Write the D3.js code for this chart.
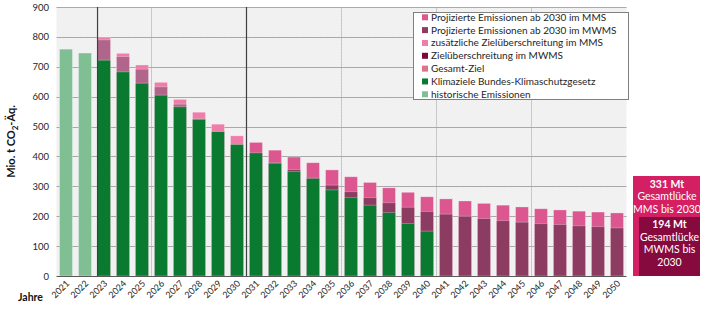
<!DOCTYPE html>
<html><head><meta charset="utf-8">
<script src="https://cdn.jsdelivr.net/npm/d3@7"></script>
<style>
html,body{margin:0;padding:0;background:#fff;}
svg{display:block;font-family:Lato,"Open Sans",sans-serif;}
</style></head>
<body><svg id="c" width="708" height="323"></svg>
<script>
const years = ["2021","2022","2023","2024","2025","2026","2027","2028","2029","2030",
"2031","2032","2033","2034","2035","2036","2037","2038","2039","2040",
"2041","2042","2043","2044","2045","2046","2047","2048","2049","2050"];
const historic = [759,746,null,null,null,null,null,null,null,null,null,null,null,null,null,null,null,null,null,null,null,null,null,null,null,null,null,null,null,null];
const target = [null,null,722,683,645,605,566,524,483,440,412,377,350,326,288,263,237,212,176,150,null,null,null,null,null,null,null,null,null,null];
const mms = [null,null,799,745,706,648,591,548,508,469,447,421,398,379,355,332,313,295,280,265,258,251,243,237,231,225,221,217,214,211];
const mwms = [null,null,790,734,692,633,575,527,484,430,405,380,356,330,304,282,262,245,230,216,207,200,192,185,180,175,172,168,165,161];
const yTicks = [0,100,200,300,400,500,600,700,800,900];
const legendItems = [
 ["Projizierte Emissionen ab 2030 im MMS","#dc5690"],
 ["Projizierte Emissionen ab 2030 im MWMS","#8c3b61"],
 ["zusätzliche Zielüberschreitung im MMS","#f07ca9"],
 ["Zielüberschreitung im MWMS","#7a0a3a"],
 ["Gesamt-Ziel","#e0708e"],
 ["Klimaziele Bundes-Klimaschutzgesetz","#0a7a30"],
 ["historische Emissionen","#80bf94"]
];
const gapMMS = ["331 Mt","Gesamtlücke","MMS bis 2030"];
const gapMWMS = ["194 Mt","Gesamtlücke","MWMS bis","2030"];

const svg = d3.select("#c");
const L=56.5, R=626.5, T=7, B=276;
const x = d3.scaleBand().domain(years).range([L,R]).paddingInner(0.32).paddingOuter(0.16);
const y = d3.scaleLinear().domain([0,900]).range([B,T]);

// plot background
const defs = svg.append("defs");
const pat = defs.append("pattern").attr("id","hatch").attr("width",3).attr("height",3)
  .attr("patternUnits","userSpaceOnUse");
pat.append("rect").attr("width",3).attr("height",3).attr("fill","#f3f3f3");
pat.append("path").attr("d","M0,3L3,0").attr("stroke","#e9e9e9").attr("stroke-width",0.6);
svg.append("rect").attr("x",L).attr("y",T).attr("width",R-L).attr("height",B-T).attr("fill","url(#hatch)");

// vertical light gridlines every 5 years
const step = x.step();
[5,10,15,20,25].forEach(i=>{
  const xx = x(years[i]) - (step - x.bandwidth())/2;
  svg.append("line").attr("x1",xx).attr("x2",xx).attr("y1",T).attr("y2",B)
    .attr("stroke","#c8c8c8").attr("stroke-width",1);
});
// horizontal gridlines
svg.append("g").selectAll("line").data(yTicks.filter(d=>d>0)).join("line")
  .attr("x1",L).attr("x2",R).attr("y1",d=>Math.round(y(d))+0.5).attr("y2",d=>Math.round(y(d))+0.5)
  .attr("stroke","#a9a9a9").attr("stroke-width",1);

// bars
const idx = d3.range(years.length);
const bw = x.bandwidth();
function bars(vals, colorFn){
  svg.append("g").selectAll("rect").data(idx.filter(i=>vals[i]!=null)).join("rect")
    .attr("x",i=>x(years[i])).attr("width",bw)
    .attr("y",i=>y(vals[i])).attr("height",i=>B-y(vals[i]))
    .attr("fill",colorFn).attr("stroke","#ffffff").attr("stroke-opacity",0.35).attr("stroke-width",0.8);
}
bars(historic, ()=>"#80bf94");
bars(mms, i=> +years[i]<=2030 ? "#f07ca9" : "#dc5690");
bars(mwms, i=> +years[i]<=2030 ? "#b0668a" : "#8c3b61");
bars(target, ()=>"#0a7a30");

// dark vertical separators
const x23 = x("2023");
svg.append("line").attr("x1",x23).attr("x2",x23).attr("y1",T).attr("y2",B).attr("stroke","#404040").attr("stroke-width",1.2);
const x31 = x("2031") - (step-bw)/2;
svg.append("line").attr("x1",x31).attr("x2",x31).attr("y1",T).attr("y2",B).attr("stroke","#404040").attr("stroke-width",1.2);

// baseline
svg.append("line").attr("x1",L).attr("x2",R).attr("y1",B+0.5).attr("y2",B+0.5).attr("stroke","#595959").attr("stroke-width",1.2);

// y tick labels
svg.append("g").selectAll("text").data(yTicks).join("text")
  .attr("x",49).attr("y",d=>y(d)+3.5).attr("text-anchor","end")
  .attr("font-size",9.5).attr("fill","#262626").text(d=>d);

// y title
const yt = svg.append("text").attr("transform","translate(15,141.5) rotate(-90)")
  .attr("text-anchor","middle").attr("font-size",11).attr("font-weight","bold").attr("fill","#111");
yt.append("tspan").text("Mio. t CO");
yt.append("tspan").attr("font-size",8).attr("dy",3).text("2");
yt.append("tspan").attr("dy",-3).text("-Äq.");

// x labels
svg.append("g").selectAll("text").data(years).join("text")
  .attr("transform",d=>`translate(${x(d)+bw/2+4},${B+8}) rotate(-45)`)
  .attr("text-anchor","end").attr("font-size",9).attr("fill","#262626").text(d=>d);
svg.append("text").attr("x",18).attr("y",301).attr("font-size",10.5).attr("font-weight","bold").attr("fill","#111").text("Jahre");

// legend
const lg = svg.append("g");
lg.append("rect").attr("x",413.5).attr("y",12.5).attr("width",215).attr("height",87)
  .attr("fill","#fff").attr("stroke","#7f7f7f").attr("stroke-width",1);
legendItems.forEach((d,i)=>{
  const cy = 17.3 + i*12.83;
  lg.append("rect").attr("x",422).attr("y",cy-3).attr("width",6).attr("height",6).attr("fill",d[1]);
  lg.append("text").attr("x",431).attr("y",cy+3.5).attr("font-size",10).attr("fill","#262626").text(d[0]);
});

// gap boxes
svg.append("rect").attr("x",633).attr("y",176).attr("width",67).attr("height",100).attr("fill","#d41f62");
svg.append("rect").attr("x",639).attr("y",217).attr("width",61).attr("height",59).attr("fill","#860a3e");
gapMMS.forEach((t,i)=>{
  svg.append("text").attr("x",667).attr("y",188+i*12.3).attr("text-anchor","middle")
    .attr("font-size",10.5).attr("font-weight",i===0?"bold":"normal").attr("fill","#fff").text(t);
});
gapMWMS.forEach((t,i)=>{
  svg.append("text").attr("x",669.5).attr("y",228+i*12.5).attr("text-anchor","middle")
    .attr("font-size",10.5).attr("font-weight",i===0?"bold":"normal").attr("fill","#fff").text(t);
});
</script></body></html>
